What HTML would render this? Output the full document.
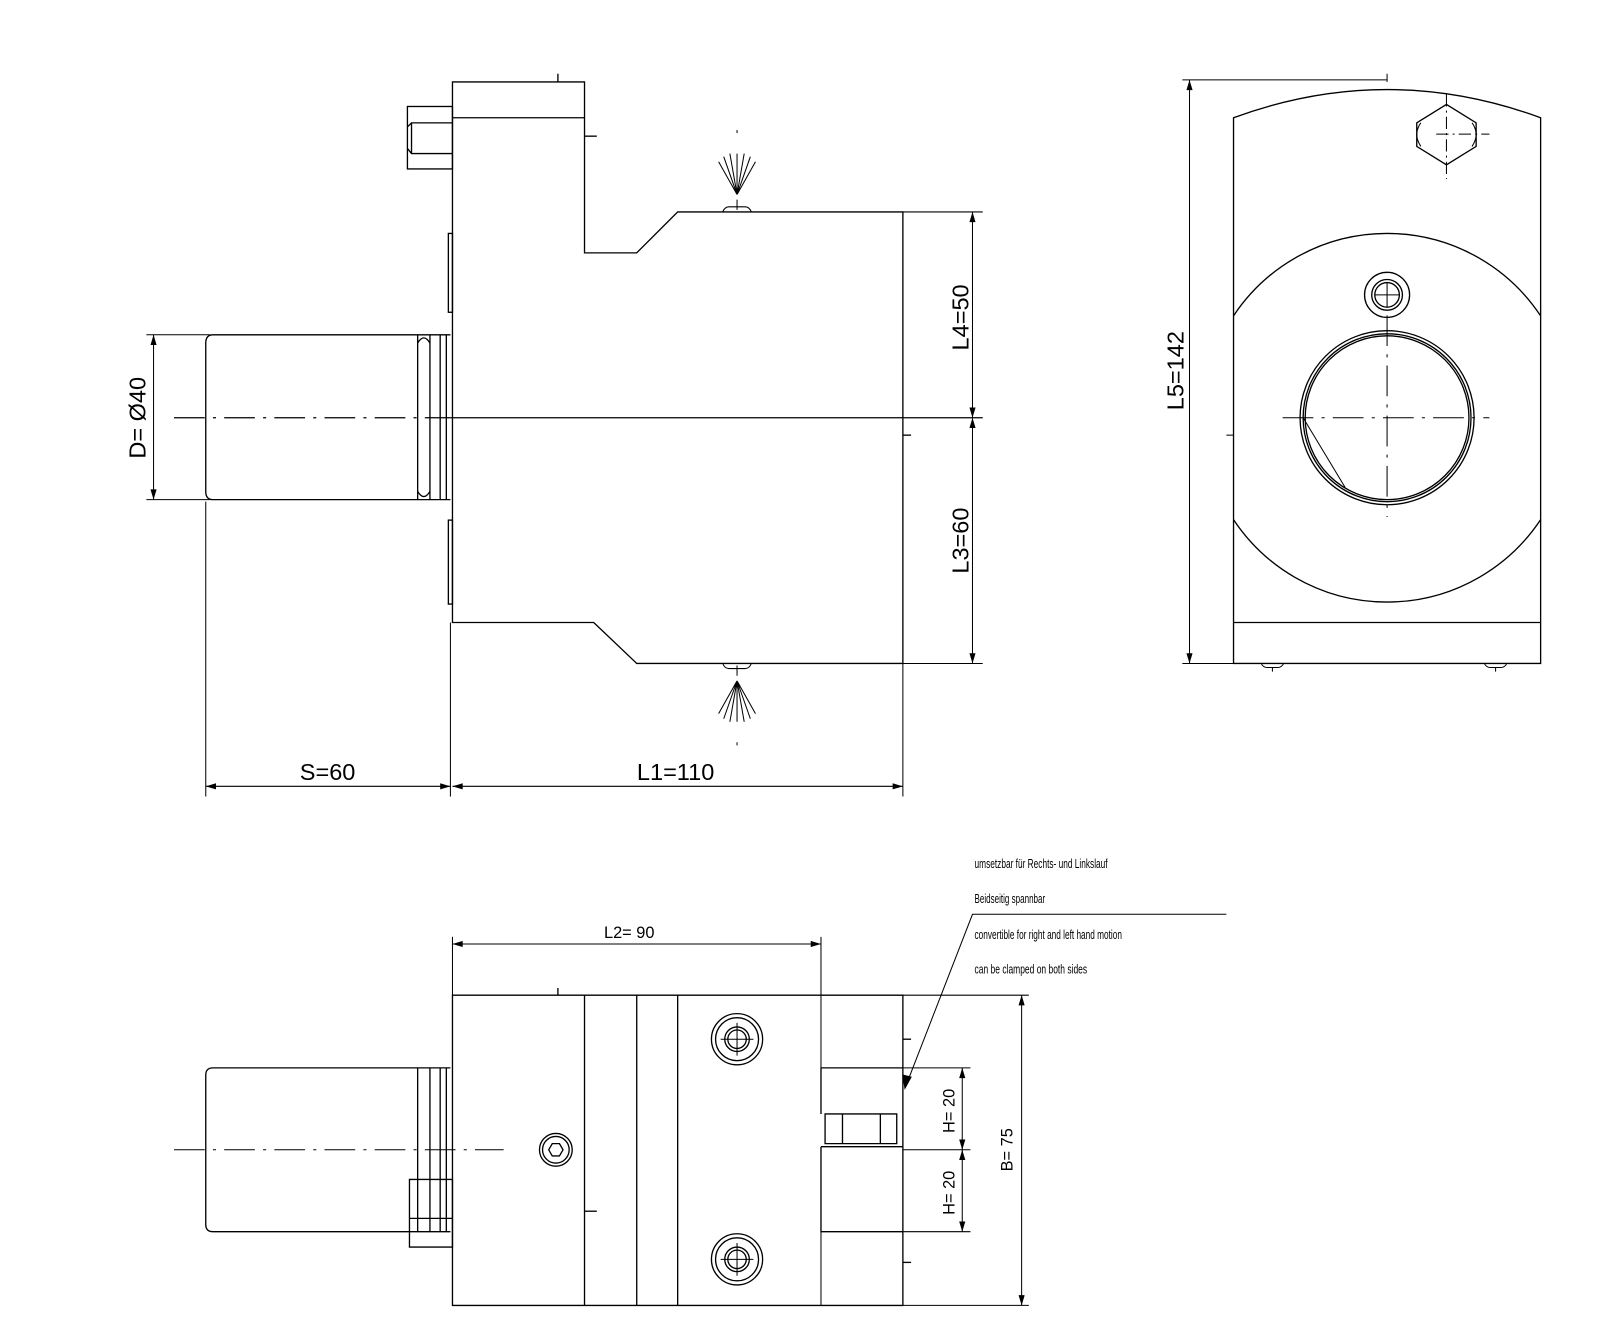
<!DOCTYPE html>
<html><head><meta charset="utf-8"><style>
html,body{margin:0;padding:0;background:#fff;}
svg{display:block}
text{font-family:"Liberation Sans",sans-serif;fill:#000}
</style></head><body>
<svg width="1600" height="1331" viewBox="0 0 1563 1300" preserveAspectRatio="none" xmlns="http://www.w3.org/2000/svg">
<defs>
<marker id="a" viewBox="0 0 10 6" refX="10" refY="3" markerWidth="14" markerHeight="6" orient="auto-start-reverse" markerUnits="userSpaceOnUse"><path d="M0,0L10,3L0,6z" fill="#000"/></marker>
</defs>
<g fill="none" stroke="#000" stroke-width="1.3">
<!-- TOP LEFT VIEW -->
<path d="M442,80H571V247H622L662,207H882V648H622L580,608H442Z"/>
<line x1="442" y1="115" x2="571" y2="115"/>
<line x1="545" y1="72" x2="545" y2="80"/>
<line x1="571" y1="133" x2="583" y2="133"/>
<line x1="882" y1="425" x2="890" y2="425"/>
<rect x="398" y="104" width="44" height="61"/>
<path d="M398,124L402,120H442M398,145L402,150H442M402,120V150"/>
<rect x="438" y="228" width="4" height="77"/>
<rect x="438" y="508" width="4" height="82"/>
<path d="M440,327H208Q201,327 201,335V480Q201,488 208,488H440"/>
<path d="M408,327V488M420,327V488M430,327V488M436,327V488"/>
<path d="M408,335Q414,325 420,335M408,480Q414,490 420,480"/>
<line x1="170" y1="408" x2="440" y2="408" stroke-dasharray="30,8,3,8"/>
<line x1="440" y1="408" x2="960" y2="408"/>
<!-- coolant -->
<g stroke-width="1">
<path d="M720,205V195M706,207Q708,202 712,202H728Q732,202 734,207"/>
<path d="M720,190V150M720,190L713,150M720,190L727,150M720,190L707,153M720,190L733,153M720,190L702,158M720,190L738,158"/>
<path d="M720,650V660M706,648Q708,653 712,653H728Q732,653 734,648"/>
<path d="M720,665V705M720,665L713,705M720,665L727,705M720,665L707,702M720,665L733,702M720,665L702,697M720,665L738,697"/>
<line x1="720" y1="127" x2="720" y2="130"/><line x1="720" y1="725" x2="720" y2="728"/>
</g>
<!-- dims -->
<g stroke-width="1">
<line x1="882" y1="207" x2="960" y2="207"/>
<line x1="882" y1="648" x2="960" y2="648"/>
<line x1="950" y1="207" x2="950" y2="408" marker-start="url(#a)" marker-end="url(#a)"/>
<line x1="950" y1="408" x2="950" y2="648" marker-start="url(#a)" marker-end="url(#a)"/>
<line x1="143" y1="327" x2="205" y2="327"/>
<line x1="143" y1="488" x2="205" y2="488"/>
<line x1="150" y1="327" x2="150" y2="488" marker-start="url(#a)" marker-end="url(#a)"/>
<line x1="201" y1="490" x2="201" y2="778"/>
<line x1="440" y1="608" x2="440" y2="778"/>
<line x1="882" y1="648" x2="882" y2="778"/>
<line x1="201" y1="768" x2="440" y2="768" marker-start="url(#a)" marker-end="url(#a)"/>
<line x1="442" y1="768" x2="882" y2="768" marker-start="url(#a)" marker-end="url(#a)"/>
</g>
<!-- RIGHT VIEW -->
<path d="M1205,648V115Q1355,60 1505,115V648Z"/>
<line x1="1205" y1="608" x2="1505" y2="608"/>
<path d="M1205,308.5A180,180 0 0 1 1505,308.5M1205,507.5A180,180 0 0 0 1505,507.5"/>
<circle cx="1355" cy="408" r="85"/><circle cx="1355" cy="408" r="82"/><circle cx="1355" cy="408" r="80"/>
<path d="M1273,408L1314,476" stroke-width="1"/>
<circle cx="1355" cy="288" r="22"/><circle cx="1355" cy="288" r="15"/><circle cx="1355" cy="288" r="12"/>
<path d="M1343,288H1367M1355,276V300" stroke-width="1"/>
<path d="M1384,120L1413,102L1442,120V143L1413,161L1384,143Z"/>
<path d="M1388,120Q1380,131 1388,143M1438,120Q1446,131 1438,143" stroke-width="1"/>
<g stroke-width="1">
<line x1="1403" y1="131" x2="1455" y2="131" stroke-dasharray="12,4,2,4"/>
<line x1="1413" y1="92" x2="1413" y2="175" stroke-dasharray="12,4,2,4"/>
<line x1="1253" y1="408" x2="1455" y2="408" stroke-dasharray="30,8,3,8"/>
<line x1="1355" y1="308" x2="1355" y2="505" stroke-dasharray="30,8,3,8"/>
<line x1="1355" y1="72" x2="1355" y2="80"/>
<line x1="1198" y1="425" x2="1205" y2="425"/>
<line x1="1155" y1="78" x2="1355" y2="78"/>
<line x1="1155" y1="648" x2="1205" y2="648"/>
<line x1="1162" y1="78" x2="1162" y2="648" marker-start="url(#a)" marker-end="url(#a)"/>
<path d="M1232,648Q1234,652 1238,652H1248Q1252,652 1254,648M1243,652V656"/>
<path d="M1450,648Q1452,652 1456,652H1466Q1470,652 1472,648M1461,652V656"/>
</g>
<!-- BOTTOM VIEW -->
<path d="M442,972H882V1275H442Z"/>
<path d="M571,972V1275M622,972V1275M662,972V1275"/>
<path d="M802,915V1043M802,1203V1275" stroke-width="1"/>
<path d="M802,1043H882M802,1043V1088M802,1120V1203H882M802,1120H882"/>
<path d="M806,1088H876V1117H806Z M823,1088V1117M860,1088V1117"/>
<line x1="545" y1="965" x2="545" y2="972"/>
<line x1="571" y1="1183" x2="583" y2="1183"/>
<line x1="882" y1="1015" x2="890" y2="1015"/>
<line x1="882" y1="1233" x2="890" y2="1233"/>
<circle cx="543" cy="1123" r="16"/><circle cx="543" cy="1123" r="13"/>
<path d="M536,1123L539.5,1117H546.5L550,1123L546.5,1129H539.5Z"/>
<g>
<circle cx="720" cy="1015" r="25"/><circle cx="720" cy="1015" r="21"/><circle cx="720" cy="1015" r="12"/><circle cx="720" cy="1015" r="9"/>
<path d="M704,1015H736M720,999V1031" stroke-width="1"/>
<circle cx="720" cy="1230" r="25"/><circle cx="720" cy="1230" r="21"/><circle cx="720" cy="1230" r="12"/><circle cx="720" cy="1230" r="9"/>
<path d="M704,1230H736M720,1214V1246" stroke-width="1"/>
</g>
<path d="M440,1043H208Q201,1043 201,1050V1196Q201,1203 208,1203H440"/>
<path d="M408,1043V1203M420,1043V1203M430,1043V1203M436,1043V1203"/>
<path d="M400,1152H442V1218H400Z M400,1190H442"/>
<line x1="170" y1="1123" x2="492" y2="1123" stroke-dasharray="30,8,3,8" stroke-width="1"/>
<g stroke-width="1">
<line x1="442" y1="915" x2="442" y2="972"/>
<line x1="442" y1="922" x2="802" y2="922" marker-start="url(#a)" marker-end="url(#a)"/>
<line x1="882" y1="972" x2="1005" y2="972"/>
<line x1="882" y1="1275" x2="1005" y2="1275"/>
<line x1="998" y1="972" x2="998" y2="1275" marker-start="url(#a)" marker-end="url(#a)"/>
<line x1="882" y1="1043" x2="948" y2="1043"/>
<line x1="882" y1="1123" x2="948" y2="1123"/>
<line x1="882" y1="1203" x2="948" y2="1203"/>
<line x1="940" y1="1043" x2="940" y2="1123" marker-start="url(#a)" marker-end="url(#a)"/>
<line x1="940" y1="1123" x2="940" y2="1203" marker-start="url(#a)" marker-end="url(#a)"/>
<path d="M1198,893H950L884,1063" />
<path d="M884,1063L882,1050L890,1052Z" fill="#000"/>
</g>
</g>
<!-- TEXT -->
<g font-size="23">
<text x="940" y="310" transform="rotate(-90 940 310)" text-anchor="middle" dominant-baseline="middle">L4=50</text>
<text x="940" y="528" transform="rotate(-90 940 528)" text-anchor="middle" dominant-baseline="middle">L3=60</text>
<text x="136" y="408" transform="rotate(-90 136 408)" text-anchor="middle" dominant-baseline="middle">D= Ø40</text>
<text x="1150" y="362" transform="rotate(-90 1150 362)" text-anchor="middle" dominant-baseline="middle">L5=142</text>
<text x="320" y="762" text-anchor="middle">S=60</text>
<text x="660" y="762" text-anchor="middle">L1=110</text>
</g>
<g font-size="16">
<text x="590" y="916">L2=   90</text>
<text x="985" y="1123" transform="rotate(-90 985 1123)" text-anchor="middle" dominant-baseline="middle">B=  75</text>
<text x="928" y="1085" transform="rotate(-90 928 1085)" text-anchor="middle" dominant-baseline="middle">H=  20</text>
<text x="928" y="1165" transform="rotate(-90 928 1165)" text-anchor="middle" dominant-baseline="middle">H=  20</text>
</g>
<g font-size="13">
<text x="952" y="848" textLength="130" lengthAdjust="spacingAndGlyphs">umsetzbar für Rechts- und Linkslauf</text>
<text x="952" y="882" textLength="69" lengthAdjust="spacingAndGlyphs">Beidseitig spannbar</text>
<text x="952" y="917" textLength="144" lengthAdjust="spacingAndGlyphs">convertible for right and left hand motion</text>
<text x="952" y="951" textLength="110" lengthAdjust="spacingAndGlyphs">can be clamped on both sides</text>
</g>
</svg>
</body></html>
